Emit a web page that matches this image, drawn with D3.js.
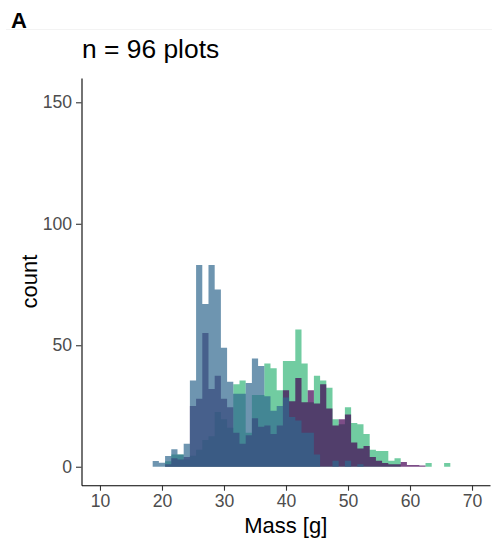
<!DOCTYPE html>
<html>
<head>
<meta charset="utf-8">
<script src="https://cdnjs.cloudflare.com/ajax/libs/d3/7.8.5/d3.min.js"></script>
<style>
  body { margin: 0; background: #ffffff; }
  svg { display: block; font-family: "Liberation Sans", Arial, sans-serif; }
</style>
</head>
<body>
<div id="histogram"></div>
<script>

// bin centres (mass in g, binwidth 1)
var binCentres = d3.range(19, 67);

// counts per bin for the three groups
var greenCounts = [0, 0, 2.3, 5, 5, 3, 4.5, 7, 11, 12.5, 22.5, 19.5, 16, 34, 35.5, 14,
  29.5, 29.5, 42.5, 40.5, 31.5, 43.5, 43.5, 56.5, 42.5, 26.5, 37.5, 35.5, 32.5, 19.5, 17.5, 24.5,
  18, 17.5, 13.5, 7, 6.5, 6.5, 2.5, 3.5, 0, 0, 0, 0, 1.5, 0, 0, 1.5];
var purpleCounts = [0, 0, 1, 3.5, 3, 4, 25, 28, 55, 32, 37.5, 28, 24.5, 14, 9.5, 13,
  20, 16.5, 17, 13.5, 17, 31.5, 27, 36.5, 26.5, 31.5, 26, 34, 24, 17, 19.5, 21.5,
  10, 7.5, 8.5, 4, 2.5, 1.5, 1, 1, 2, 0.7, 0.7, 0.5, 0, 0, 0, 0];
var blueCounts = [2.4, 1.6, 4.4, 7.2, 5, 9.5, 35.5, 83, 67, 83, 73, 49, 35, 30, 30, 34.5,
  44.5, 41.5, 29, 23, 25, 28.5, 20.5, 19, 14, 14, 5, 0, 0, 2.5, 0, 2.5,
  0, 1, 0, 0, 0, 0, 0, 0, 0, 0, 0, 0, 0, 0, 0, 0];

var xTicks = [10, 20, 30, 40, 50, 60, 70];
var yTicks = [0, 50, 100, 150];

// drawn in this order, later ones on top
var groups = [
  {name: "green", colour: "#35B779", counts: greenCounts},
  {name: "purple", colour: "#440154", counts: purpleCounts},
  {name: "blue", colour: "#31688E", counts: blueCounts}
];

var width = 492, height = 545;
var panel = {left: 81.5, right: 490, top: 78, bottom: 485.2};

var svg = d3.select("#histogram").append("svg")
  .attr("width", width)
  .attr("height", height);

var x = d3.scaleLinear()
  .domain([7.02, 72.9])
  .range([panel.left, panel.right]);

var y = d3.scaleLinear()
  .domain([-7.6, 160])
  .range([panel.bottom, panel.top]);

// faint rule under the panel tag
svg.append("line")
  .attr("x1", 6).attr("x2", width)
  .attr("y1", 29.5).attr("y2", 29.5)
  .attr("stroke", "#f3f3f3")
  .attr("stroke-width", 1);

// step outline for each group so adjacent bars have no seams
var area = d3.area()
  .curve(d3.curveStepAfter)
  .x(function(d) { return x(d.edge); })
  .y0(y(0))
  .y1(function(d) { return y(d.count); });

groups.forEach(function(g) {
  var pts = binCentres.map(function(c, i) {
    return {edge: c - 0.5, count: g.counts[i]};
  });
  pts.push({edge: binCentres[binCentres.length - 1] + 0.5, count: 0});

  svg.append("path")
    .datum(pts)
    .attr("class", "hist " + g.name)
    .attr("d", area)
    .attr("fill", g.colour)
    .attr("fill-opacity", 0.7);
});

// axes
var xAxis = d3.axisBottom(x)
  .tickValues(xTicks)
  .tickSizeInner(5.5)
  .tickSizeOuter(0)
  .tickPadding(4);

var yAxis = d3.axisLeft(y)
  .tickValues(yTicks)
  .tickSizeInner(5.5)
  .tickSizeOuter(0)
  .tickPadding(4);

var gx = svg.append("g")
  .attr("class", "x axis")
  .attr("transform", "translate(0," + panel.bottom + ")")
  .call(xAxis);

var gy = svg.append("g")
  .attr("class", "y axis")
  .attr("transform", "translate(" + panel.left + ",0)")
  .call(yAxis);

[gx, gy].forEach(function(g) {
  g.select(".domain").attr("stroke", "#000").attr("stroke-width", 1.1);
  g.selectAll(".tick line").attr("stroke", "#333").attr("stroke-width", 1.1);
  g.selectAll(".tick text")
    .attr("fill", "#4d4d4d")
    .style("font-size", "17.6px")
    .style("font-family", "Liberation Sans, Arial, sans-serif");
});

// axis titles
svg.append("text")
  .attr("x", (panel.left + panel.right) / 2)
  .attr("y", 533)
  .attr("text-anchor", "middle")
  .style("font-size", "22px")
  .text("Mass [g]");

svg.append("text")
  .attr("transform", "translate(37," + (panel.top + panel.bottom) / 2 + ") rotate(-90)")
  .attr("text-anchor", "middle")
  .style("font-size", "22px")
  .text("count");

// plot title and tag
svg.append("text")
  .attr("x", 82)
  .attr("y", 58)
  .style("font-size", "26.4px")
  .text("n = 96 plots");

svg.append("text")
  .attr("x", 11)
  .attr("y", 28)
  .style("font-size", "22px")
  .style("font-weight", "bold")
  .text("A");

</script>
</body>
</html>
